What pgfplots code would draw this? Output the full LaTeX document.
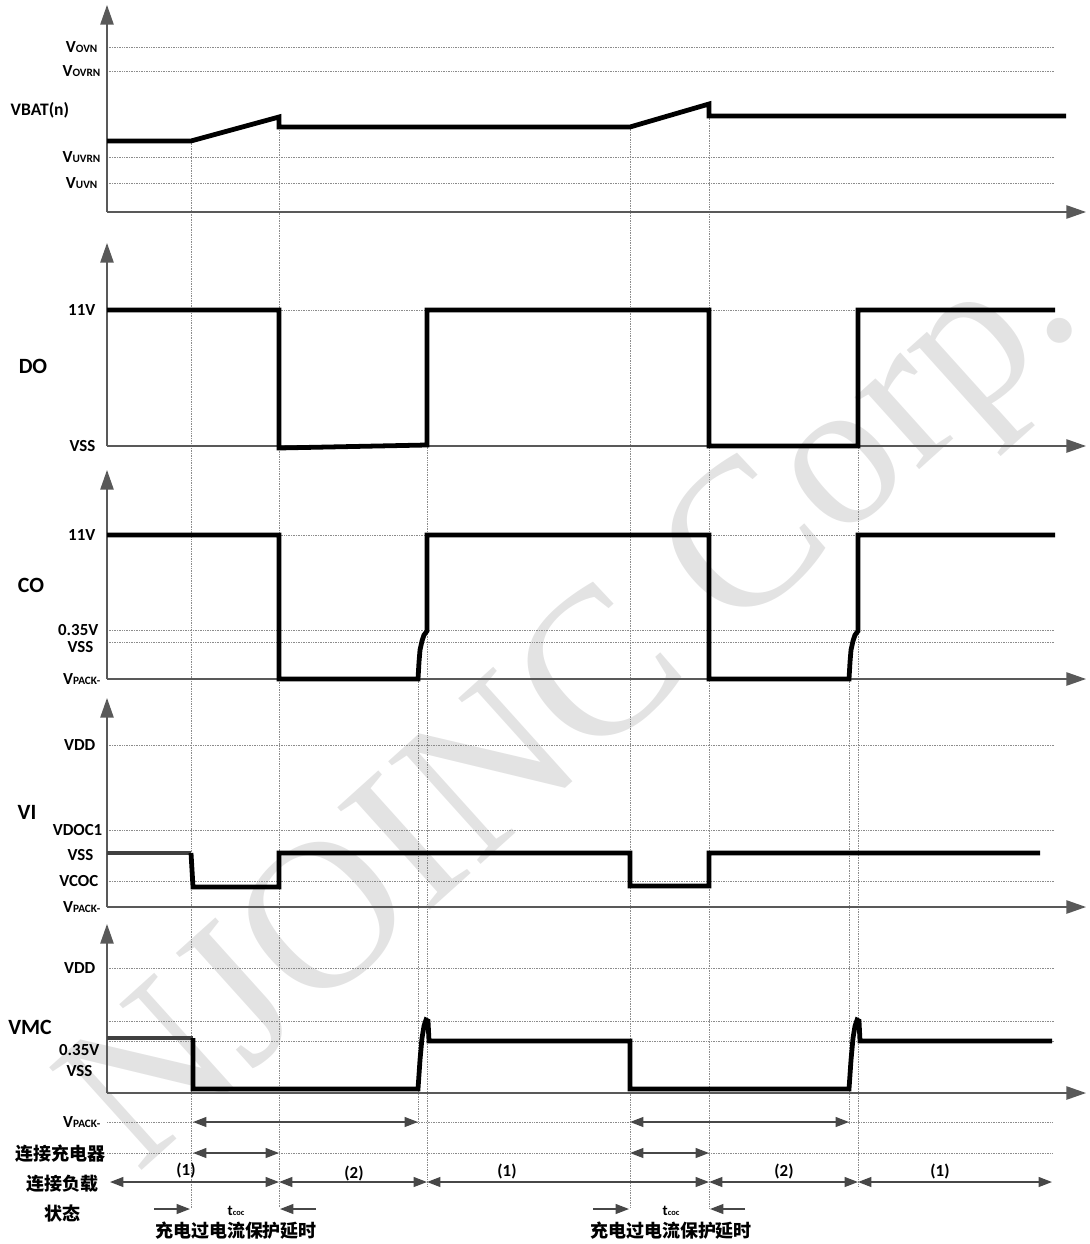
\documentclass[border=0pt]{standalone}
\usepackage{pgfplots}
\pgfplotsset{compat=1.18}
\usepackage{fontspec}
\setmainfont{Carlito}
\newfontfamily\cjk{Noto Sans CJK SC}
\newfontfamily\wm{Liberation Serif}
\usetikzlibrary{arrows.meta}
\newcommand\sv[1]{V{\fontsize{8}{8}\selectfont #1}}
\tikzset{
  sig/.style={black, line width=3.4pt, line join=miter},
  axarr/.style={black!65, line width=1.1pt, -{Triangle[width=9.5pt,length=14pt]}},
  gr/.style={black!45, line width=0.5pt, dash pattern=on 0.6pt off 0.6pt},
  dim/.style={black!72, line width=1.1pt, {Triangle[width=7pt,length=9.5pt]}-{Triangle[width=7pt,length=9.5pt]}},
  sarr/.style={black!72, line width=1.1pt, -{Triangle[width=7pt,length=9.5pt]}},
  lab/.style={anchor=east, inner sep=1pt, font=\bfseries\fontsize{12}{13}\selectfont},
  big/.style={inner sep=1pt, font=\bfseries\fontsize{15.5}{16}\selectfont},
  zh/.style={inner sep=0.5pt, font=\cjk\bfseries\fontsize{12.8}{13}\selectfont},
}
\begin{document}
\begin{tikzpicture}
\begin{axis}[scale only axis, width=272.25mm, height=311mm,
  xmin=0, xmax=1089, ymin=0, ymax=1244, y dir=reverse,
  hide axis, clip=false]
\draw[draw=none] (axis cs:0,0) rectangle (axis cs:1089,1244);
% watermark
\node[overlay, rotate=42, text=black!11, font=\wm\fontsize{150}{150}\selectfont] at (axis cs:580,712) {NJOINC Corp.};

% ---------- horizontal grid lines
\addplot[gr] coordinates {(107,47) (1055,47)};
\addplot[gr] coordinates {(107,71) (1055,71)};
\addplot[gr] coordinates {(107,157) (1055,157)};
\addplot[gr] coordinates {(107,183) (1055,183)};
\addplot[gr] coordinates {(107,310) (1055,310)};
\addplot[gr] coordinates {(107,535) (1055,535)};
\addplot[gr] coordinates {(107,630) (1055,630)};
\addplot[gr] coordinates {(107,642) (1055,642)};
\addplot[gr] coordinates {(107,745) (1055,745)};
\addplot[gr] coordinates {(107,830) (1055,830)};
\addplot[gr] coordinates {(107,881) (1055,881)};
\addplot[gr] coordinates {(107,968) (1055,968)};
\addplot[gr] coordinates {(107,1021) (1055,1021)};
\addplot[gr] coordinates {(107,1041) (1055,1041)};
\addplot[gr] coordinates {(107,1122) (1052,1122)};
\addplot[gr] coordinates {(107,1153) (1052,1153)};

% ---------- vertical grid lines
\addplot[gr] coordinates {(191,141) (191,1208)};
\addplot[gr] coordinates {(279,120) (279,1208)};
\addplot[gr] coordinates {(630,127) (630,1208)};
\addplot[gr] coordinates {(709,106) (709,1208)};
\addplot[gr] coordinates {(427,310) (427,1187)};
\addplot[gr] coordinates {(858,310) (858,1187)};
\addplot[gr] coordinates {(418,679) (418,1123)};
\addplot[gr] coordinates {(849,679) (849,1123)};

% ---------- axes
\addplot[axarr] coordinates {(107,212) (107,5)};
\addplot[axarr] coordinates {(107,212) (1086,212)};
\addplot[axarr] coordinates {(107,446) (107,243)};
\addplot[axarr] coordinates {(107,446) (1086,446)};
\addplot[axarr] coordinates {(107,679) (107,470)};
\addplot[axarr] coordinates {(107,679) (1086,679)};
\addplot[axarr] coordinates {(107,907) (107,698)};
\addplot[axarr] coordinates {(107,907) (1086,907)};
\addplot[axarr] coordinates {(107,1093) (107,924)};
\addplot[axarr] coordinates {(107,1093) (1086,1093)};

% ---------- signals
% VBAT(n)
\addplot[sig] coordinates {(107,141) (191,141) (279,117) (279,127) (630,127) (709,104) (709,116) (1066,116)};
% DO
\addplot[sig] coordinates {(107,310) (279,310) (279,448) (427,445) (427,310) (709,310) (709,446) (858,446) (858,310) (1055,310)};
% CO
\addplot[sig] coordinates {(107,535) (279,535) (279,679) (418,679) (419,662) (420,650) (422,641) (424,635) (427,631) (427,535) (709,535) (709,679) (849,679) (850,662) (851,650) (853,641) (855,635) (858,631) (858,535) (1055,535)};
% VI
\addplot[black!75, line width=3.4pt] coordinates {(107,853) (191,853)};
\addplot[sig] coordinates {(191,853) (193,887) (279,887) (279,853) (630,853) (630,886) (709,886) (709,853) (1040,853)};
% VMC
\addplot[black!75, line width=3.4pt] coordinates {(107,1038) (193,1038)};
\addplot[sig] coordinates {(193,1038) (193,1089) (418,1089) (420,1060) (422,1038) (424,1026) (426,1020) (428,1021) (429,1041) (630,1041) (630,1089) (849,1089) (851,1060) (853,1038) (855,1026) (857,1020) (859,1021) (860,1041) (1052,1041)};

% ---------- timing arrows
\addplot[dim] coordinates {(193,1122) (418,1122)};
\addplot[dim] coordinates {(630,1122) (849,1122)};
\addplot[dim] coordinates {(193,1153) (279,1153)};
\addplot[dim] coordinates {(630,1153) (709,1153)};
\addplot[dim] coordinates {(110,1182) (279,1182)};
\addplot[dim] coordinates {(279,1182) (427,1182)};
\addplot[dim] coordinates {(427,1182) (709,1182)};
\addplot[dim] coordinates {(709,1182) (858,1182)};
\addplot[dim] coordinates {(858,1182) (1052,1182)};
\addplot[sarr] coordinates {(154,1209) (190,1209)};
\addplot[sarr] coordinates {(316,1209) (280,1209)};
\addplot[sarr] coordinates {(593,1209) (629,1209)};
\addplot[sarr] coordinates {(745,1209) (710,1209)};

% ---------- labels
\node[lab] at (axis cs:99,47) {\sv{OVN}};
\node[lab] at (axis cs:102,71) {\sv{OVRN}};
\node[anchor=west, inner sep=1pt, font=\bfseries\fontsize{12.5}{13}\selectfont] at (axis cs:9,110) {VBAT(n)};
\node[lab] at (axis cs:102,157) {\sv{UVRN}};
\node[lab] at (axis cs:99,183) {\sv{UVN}};
\node[lab] at (axis cs:97,310) {11V};
\node[big] at (axis cs:33,366) {DO};
\node[lab] at (axis cs:97,446) {VSS};
\node[lab] at (axis cs:97,535) {11V};
\node[big] at (axis cs:31,585) {CO};
\node[lab] at (axis cs:100,630) {0.35V};
\node[lab] at (axis cs:95,647) {VSS};
\node[lab] at (axis cs:102,679) {\sv{PACK-}};
\node[lab] at (axis cs:97,745) {VDD};
\node[big] at (axis cs:27,812) {VI};
\node[lab] at (axis cs:104,830) {VDOC1};
\node[lab] at (axis cs:95,855) {VSS};
\node[lab] at (axis cs:100,881) {VCOC};
\node[lab] at (axis cs:102,907) {\sv{PACK-}};
\node[lab] at (axis cs:97,968) {VDD};
\node[big] at (axis cs:30,1027) {VMC};
\node[lab] at (axis cs:101,1050) {0.35V};
\node[lab] at (axis cs:94,1071) {VSS};
\node[lab] at (axis cs:102,1122) {\sv{PACK-}};
\node[zh, anchor=east] at (axis cs:106,1154) {连接充电器};
\node[zh, anchor=east] at (axis cs:99,1184) {连接负载};
\node[zh] at (axis cs:62,1214) {状态};
\node[lab, anchor=center] at (axis cs:186,1171) {(1)};
\node[lab, anchor=center] at (axis cs:354,1174) {(2)};
\node[lab, anchor=center] at (axis cs:507,1172) {(1)};
\node[lab, anchor=center] at (axis cs:784,1172) {(2)};
\node[lab, anchor=center] at (axis cs:940,1172) {(1)};
\node[inner sep=0.5pt, font=\bfseries\fontsize{10.5}{11}\selectfont] at (axis cs:236,1211) {t{\fontsize{6}{6}\selectfont coc}};
\node[inner sep=0.5pt, font=\bfseries\fontsize{10.5}{11}\selectfont] at (axis cs:671,1211) {t{\fontsize{6}{6}\selectfont coc}};
\node[zh] at (axis cs:236,1231) {充电过电流保护延时};
\node[zh] at (axis cs:671,1231) {充电过电流保护延时};
\end{axis}
\end{tikzpicture}
\end{document}
